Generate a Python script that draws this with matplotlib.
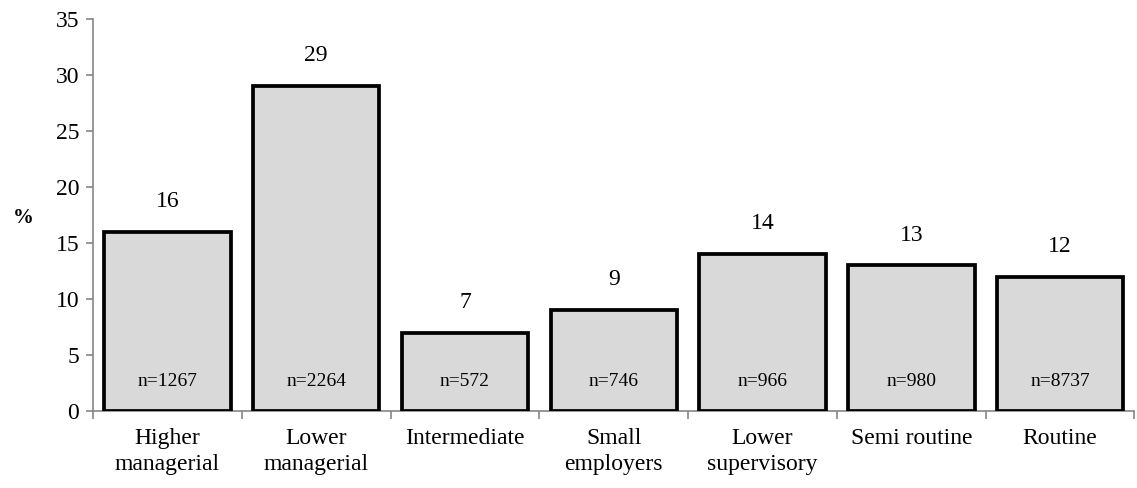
import matplotlib
matplotlib.use('agg')
import matplotlib.pyplot as plt
import numpy as np

plt.rcParams['font.family'] = ['Liberation Serif', 'DejaVu Serif']

classes = ['Higher\nmanagerial', 'Lower\nmanagerial', 'Intermediate', 'Small\nemployers',
           'Lower\nsupervisory', 'Semi routine', 'Routine']
pct = [16, 29, 7, 9, 14, 13, 12]
counts = [1267, 2264, 572, 746, 966, 980, 8737]

grey = '#868686'

fig = plt.figure(figsize=(11.37, 4.88), dpi=100)
ax = fig.add_axes([0.0818, 0.158, 0.916, 0.803])

x = np.arange(len(classes))
ax.bar(x, pct, width=0.85, color='#d9d9d9', edgecolor='black', linewidth=2.7, zorder=3)

for xi, v, n in zip(x, pct, counts):
    ax.text(xi, v + 2.7, str(v), ha='center', va='center', fontsize=17)
    ax.text(xi, 2.6, 'n=%d' % n, ha='center', va='center', fontsize=14)

ax.set_xlim(-0.5, len(classes) - 0.5)
ax.set_ylim(0, 35)
ax.set_yticks(range(0, 36, 5))
ax.tick_params(axis='y', labelsize=17, color=grey, length=5, width=1.2, pad=5)

ax.set_xticks(x)
ax.set_xticklabels(classes, fontsize=17, linespacing=1.35)
ax.tick_params(axis='x', which='major', length=0, pad=12)
ax.set_xticks(np.arange(-0.5, len(classes)), minor=True)
ax.tick_params(axis='x', which='minor', length=6, color=grey, width=1.2)

for s in ['top', 'right']:
    ax.spines[s].set_visible(False)
for s in ['left', 'bottom']:
    ax.spines[s].set_color(grey)
    ax.spines[s].set_linewidth(1.2)

fig.text(0.011, 0.553, '%', fontsize=15, fontweight='bold', ha='left', va='center')

fig.savefig('out.png', dpi=100)
